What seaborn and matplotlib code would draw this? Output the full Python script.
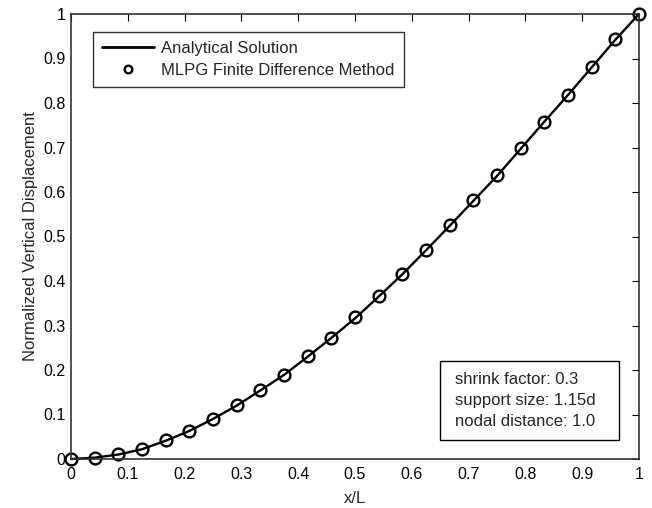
import matplotlib
matplotlib.use("Agg")
import matplotlib.pyplot as plt
from matplotlib.legend_handler import HandlerLine2D
from matplotlib.patches import Rectangle
import seaborn as sns
import numpy as np
import pandas as pd

# Data
x_nodes = [0.0, 0.0417, 0.0833, 0.125, 0.1667, 0.2083, 0.25, 0.2917, 0.3333,
           0.375, 0.4167, 0.4583, 0.5, 0.5417, 0.5833, 0.625, 0.6667, 0.7083,
           0.75, 0.7917, 0.8333, 0.875, 0.9167, 0.9583, 1.0]
y_analytical = [0.0, 0.003, 0.010, 0.022, 0.041, 0.063, 0.090, 0.120, 0.154,
                0.189, 0.230, 0.272, 0.316, 0.365, 0.415, 0.469, 0.524, 0.580,
                0.636, 0.697, 0.758, 0.818, 0.880, 0.942, 1.0]
y_mlpg = [0.0, 0.003, 0.011, 0.023, 0.043, 0.064, 0.091, 0.121, 0.155,
          0.188, 0.231, 0.273, 0.318, 0.366, 0.415, 0.470, 0.525, 0.581,
          0.638, 0.698, 0.758, 0.819, 0.881, 0.943, 1.0]
x_ticks = [0, 0.1, 0.2, 0.3, 0.4, 0.5, 0.6, 0.7, 0.8, 0.9, 1]
x_ticklabels = ["0", "0.1", "0.2", "0.3", "0.4", "0.5", "0.6", "0.7", "0.8", "0.9", "1"]
y_ticks = [0, 0.1, 0.2, 0.3, 0.4, 0.5, 0.6, 0.7, 0.8, 0.9, 1]
y_ticklabels = ["0", "0.1", "0.2", "0.3", "0.4", "0.5", "0.6", "0.7", "0.8", "0.9", "1"]
info_lines = ["shrink factor: 0.3", "support size: 1.15d", "nodal distance: 1.0"]

sns.set_style("white")
plt.rcParams['font.family'] = ['Liberation Sans', 'DejaVu Sans']

df_a = pd.DataFrame({"x": x_nodes, "y": y_analytical})
df_m = pd.DataFrame({"x": x_nodes, "y": y_mlpg})

W, H = 652, 508
L, R, T, B = 71, 639, 14, 459
fig = plt.figure(figsize=(W / 100, H / 100), dpi=100)
ax = fig.add_axes([L / W, 1 - B / H, (R - L) / W, (B - T) / H])

sns.lineplot(data=df_a, x="x", y="y", ax=ax, color="black", linewidth=1.7,
             label="Analytical Solution")
sns.lineplot(data=df_m, x="x", y="y", ax=ax, color="black", linestyle="none",
             marker="o", markersize=8.5, markerfacecolor="none",
             markeredgecolor="black", markeredgewidth=1.7,
             label="MLPG Finite Difference Method")
for ln in ax.lines:
    ln.set_clip_on(False)

ax.set_xlim(0, 1)
ax.set_ylim(0, 1)
ax.set_xticks(x_ticks)
ax.set_xticklabels(x_ticklabels)
ax.set_yticks(y_ticks)
ax.set_yticklabels(y_ticklabels)
ax.tick_params(direction="in", length=5, width=0.8, top=True, right=True,
               labelsize=11.5, colors="black", pad=4)
ax.tick_params(axis="x", pad=6)
for s in ax.spines.values():
    s.set_color("#333333")
    s.set_linewidth(1.2)
    s.set_visible(True)

ax.set_xlabel("x/L", fontsize=12, labelpad=6)
ax.set_ylabel("Normalized Vertical Displacement", fontsize=12, labelpad=4)


class LeftMarkerHandler(HandlerLine2D):
    def get_xdata(self, legend, xdescent, ydescent, width, height, fontsize):
        xdata = [-xdescent, -xdescent + width]
        xdata_marker = [-xdescent + 0.15 * width]
        return xdata, xdata_marker


handles, labels = ax.get_legend_handles_labels()
leg = ax.legend(handles, labels, loc="upper left",
                bbox_to_anchor=((93 - L) / (R - L), (B - 32) / (B - T)),
                fontsize=12, frameon=True, fancybox=False, edgecolor="black",
                handlelength=3.1, handletextpad=0.45, borderpad=0.55,
                labelspacing=0.42, borderaxespad=0, markerscale=0.65,
                handler_map={handles[1]: LeftMarkerHandler(numpoints=1)})
leg.get_frame().set_linewidth(1.0)
for h in leg.get_lines():
    h.set_linewidth(2.0)

# info box
x0 = (440 - L) / (R - L)
x1 = (619 - L) / (R - L)
y0 = (B - 440) / (B - T)
y1 = (B - 361) / (B - T)
ax.add_patch(Rectangle((x0, y0), x1 - x0, y1 - y0, transform=ax.transAxes,
                       facecolor="white", edgecolor="black", linewidth=1.0,
                       zorder=5))
for i, t in enumerate(info_lines):
    yc = (B - (379 + 21.5 * i)) / (B - T)
    ax.text((455 - L) / (R - L), yc, t, transform=ax.transAxes, fontsize=12,
            va="center", ha="left", zorder=6)

fig.savefig("out.png", dpi=100)
